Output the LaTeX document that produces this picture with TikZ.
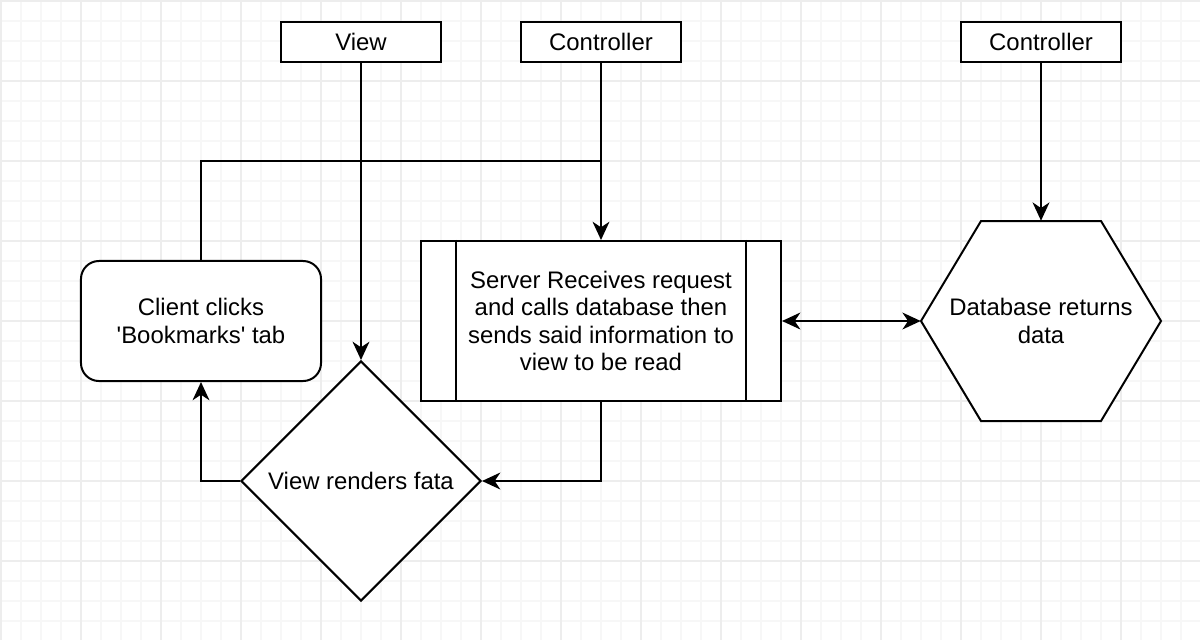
\documentclass[tikz,border=0pt]{standalone}
\usepackage{fontspec}
\setmainfont{Liberation Sans}[Ligatures=TeXOff]
\usetikzlibrary{arrows.meta,shapes.geometric}
\begin{document}
\begin{tikzpicture}[x=0.025cm,y=-0.025cm,
  txt/.style={font=\fontsize{17}{19.6}\selectfont, align=center, text=black},
  lbl/.style={txt, draw, line width=1.42pt, fill=white, minimum width=4cm, minimum height=1cm, inner sep=0pt},
  proc/.style={txt, draw, line width=1.42pt, fill=white, minimum width=9cm, minimum height=4cm, inner sep=0pt},
  rnd/.style={txt, draw, line width=1.42pt, fill=white, rounded corners=12.8pt, minimum width=6cm, minimum height=3cm, inner sep=0pt},
  dia/.style={txt, draw, line width=1.42pt, fill=white, diamond, aspect=1, minimum width=6cm, minimum height=6cm, inner sep=0pt},
  hexbox/.style={minimum width=6cm, minimum height=5cm, inner sep=0pt},
  conn/.style={line width=1.42pt, -{Stealth[length=13pt,width=12pt,inset=4pt]}},
  biconn/.style={line width=1.42pt, {Stealth[length=13pt,width=12pt,inset=4pt]}-{Stealth[length=13pt,width=12pt,inset=4pt]}},
  gridminor/.style={line width=1.2pt, color=black!3},
  gridmajor/.style={line width=1.2pt, color=black!7}
]
\useasboundingbox (0,0) rectangle (1200,640);
\fill[white] (0,0) rectangle (1200,640);
\foreach \x in {1,21,...,1200} \draw[gridminor] (\x,0) -- (\x,640);
\foreach \y in {1,21,...,640} \draw[gridminor] (0,\y) -- (1200,\y);
\foreach \x in {1,81,...,1200} \draw[gridmajor] (\x,0) -- (\x,640);
\foreach \y in {1,81,...,640} \draw[gridmajor] (0,\y) -- (1200,\y);

% nodes
\node[lbl] (view) at (361,42) {View};
\node[lbl] (ctlA) at (601,42) {Controller};
\node[lbl] (ctlB) at (1041,42) {Controller};
\node[rnd] (client) at (201,321) {Client clicks\\'Bookmarks' tab};
\node[proc] (srv) at (601,321) {Server Receives request\\and calls database then\\sends said information to\\view to be read};
\draw[line width=1.42pt] ([xshift=0.9cm]srv.north west) -- ([xshift=0.9cm]srv.south west);
\draw[line width=1.42pt] ([xshift=-0.9cm]srv.north east) -- ([xshift=-0.9cm]srv.south east);
\node[dia] (render) at (361,481) {View renders fata};
\node[hexbox] (db) at (1041,321) {};
\draw[line width=1.42pt, fill=white] (981,221) -- (1101,221) -- (1161,321) -- (1101,421) -- (981,421) -- (921,321) -- cycle;
\node[txt] (dbtxt) at (db.center) {Database returns\\data};

\coordinate (join) at (601,161);

% connectors
\draw[line width=1.42pt] (client.north) |- (join);
\draw[conn] (ctlA) -- (srv);
\draw[conn] (view) -- (render);
\draw[conn] (ctlB) -- (db.north);
\draw[biconn] (srv.east) -- (db.west);
\draw[conn] (srv.south) |- (render.east);
\draw[conn] (render.west) -| (client.south);
\end{tikzpicture}
\end{document}
